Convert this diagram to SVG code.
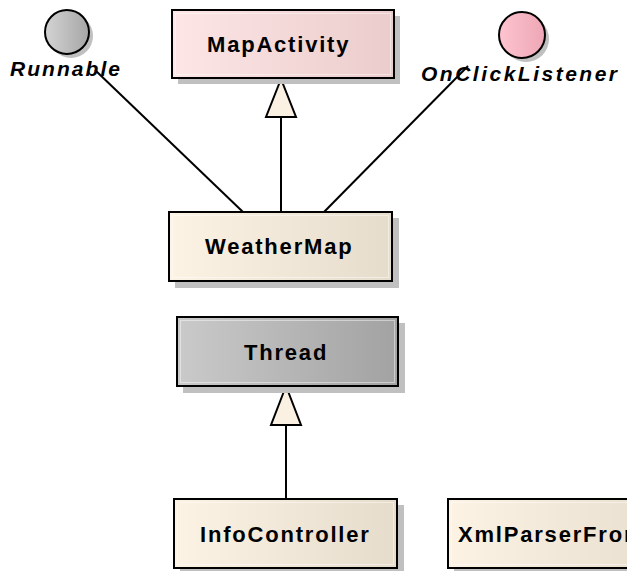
<svg xmlns="http://www.w3.org/2000/svg" width="627" height="571" viewBox="0 0 627 571">
<style>
.box{stroke:#000;stroke-width:2}
.shadow{fill:#c0c0c0}
.inner{fill:none;stroke:#ffffff;stroke-opacity:0.45;stroke-width:1}
.lbl{font-family:"Liberation Sans",Arial,sans-serif;font-size:22px;font-weight:bold;letter-spacing:1.8px;fill:#000}
.ital{font-family:"Liberation Sans",Arial,sans-serif;font-size:21px;font-weight:bold;font-style:italic;fill:#000}
.conn{stroke:#000;stroke-width:2;fill:none}
.tri{fill:#fbf1e3;stroke:#000;stroke-width:2;stroke-linejoin:miter}
</style>
<defs>
<linearGradient id="gPink" x1="0" y1="0" x2="1" y2="0"><stop offset="0" stop-color="#fde6e6"/><stop offset="1" stop-color="#ebcccc"/></linearGradient>
<linearGradient id="gCream" x1="0" y1="0" x2="1" y2="0"><stop offset="0" stop-color="#fcf3e4"/><stop offset="1" stop-color="#e6dccc"/></linearGradient>
<linearGradient id="gGray" x1="0" y1="0" x2="1" y2="0"><stop offset="0" stop-color="#cacaca"/><stop offset="1" stop-color="#a2a2a2"/></linearGradient>
<linearGradient id="cGray" x1="0" y1="0" x2="1" y2="0"><stop offset="0" stop-color="#d4d4d4"/><stop offset="1" stop-color="#a6a6a6"/></linearGradient>
<linearGradient id="cPink" x1="0" y1="0" x2="1" y2="0"><stop offset="0" stop-color="#fdc4cf"/><stop offset="1" stop-color="#eea6b5"/></linearGradient>
</defs>

<g id="connectors">
<line class="conn" x1="95" y1="70" x2="243" y2="212"/>
<line class="conn" x1="468" y1="66" x2="324" y2="212"/>
<line class="conn" x1="281" y1="117" x2="281" y2="212"/>
<polygon class="tri" points="281,79 266,117 296,117"/>
<line class="conn" x1="286" y1="425" x2="286" y2="499"/>
<polygon class="tri" points="286,386 271,425 301,425"/>
</g>

<g id="Runnable">
<circle class="shadow" cx="71" cy="36" r="22"/>
<circle cx="67" cy="32" r="22" fill="url(#cGray)" stroke="#000" stroke-width="2"/>
<text class="ital" x="10" y="76" textLength="110" lengthAdjust="spacing">Runnable</text>
</g>

<g id="OnClickListener">
<circle class="shadow" cx="526" cy="39" r="23"/>
<circle cx="522" cy="35" r="23" fill="url(#cPink)" stroke="#000" stroke-width="2"/>
<text class="ital" x="421" y="81" textLength="196" lengthAdjust="spacing">OnClickListener</text>
</g>

<g id="MapActivity">
<rect class="shadow" x="178" y="16" width="222" height="68"/>
<rect class="box" x="172" y="10" width="222" height="68" fill="url(#gPink)"/>
<rect class="inner" x="175.5" y="13.5" width="215" height="61"/>
<text class="lbl" x="207" y="52">MapActivity</text>
</g>

<g id="WeatherMap">
<rect class="shadow" x="175" y="218" width="224" height="70"/>
<rect class="box" x="169" y="212" width="223" height="69" fill="url(#gCream)"/>
<rect class="inner" x="172.5" y="215.5" width="216" height="62"/>
<text class="lbl" x="205" y="254">WeatherMap</text>
</g>

<g id="Thread">
<rect class="shadow" x="183" y="323" width="222" height="70"/>
<rect class="box" x="177" y="317" width="221" height="69" fill="url(#gGray)"/>
<rect class="inner" x="180.5" y="320.5" width="214" height="62"/>
<text class="lbl" x="244" y="360">Thread</text>
</g>

<g id="InfoController">
<rect class="shadow" x="180" y="505" width="224" height="70"/>
<rect class="box" x="174" y="499" width="223" height="69" fill="url(#gCream)"/>
<rect class="inner" x="177.5" y="502.5" width="216" height="62"/>
<text class="lbl" x="200" y="542">InfoController</text>
</g>

<g id="XmlParserFrom">
<rect class="shadow" x="454" y="505" width="240" height="70"/>
<rect class="box" x="448" y="499" width="240" height="69" fill="url(#gCream)"/>
<rect class="inner" x="451.5" y="502.5" width="233" height="62"/>
<text class="lbl" x="458" y="542">XmlParserFrom</text>
</g>
</svg>
